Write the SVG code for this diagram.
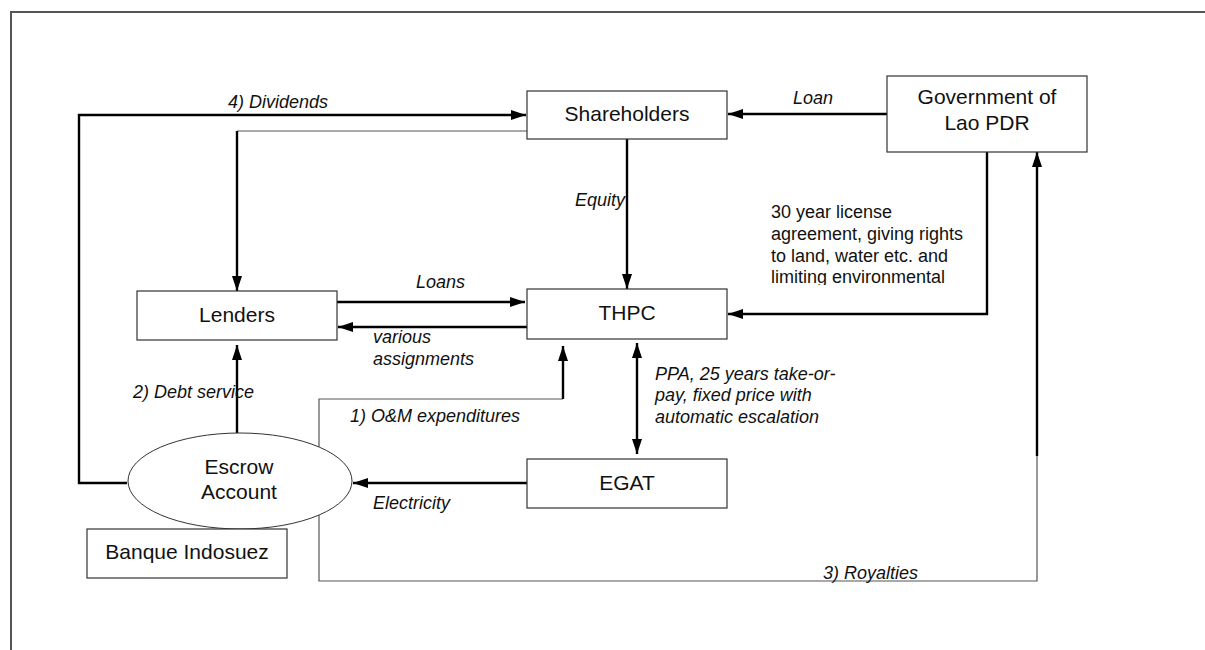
<svg xmlns="http://www.w3.org/2000/svg" width="1205" height="650" viewBox="0 0 1205 650">
<style>
.box{fill:#fff;stroke:#333;stroke-width:1.2}
.nt{font-family:"Liberation Sans",Arial,sans-serif;font-size:21px;fill:#111;text-anchor:middle}
.lb{font-family:"Liberation Sans",Arial,sans-serif;font-size:18px;font-style:italic;fill:#111}
.tx{font-family:"Liberation Sans",Arial,sans-serif;font-size:18px;fill:#111}
.thick{fill:none;stroke:#000;stroke-width:2.4}
.thin{fill:none;stroke:#555;stroke-width:1.2}
.frame{fill:none;stroke:#555;stroke-width:2}
</style>
<defs>
<marker id="ah" markerUnits="userSpaceOnUse" markerWidth="15" markerHeight="10" refX="15" refY="5" orient="auto-start-reverse" viewBox="0 0 15 10">
<path d="M0,0 L15,5 L0,10 z" fill="#000"/>
</marker>
<clipPath id="lic"><rect x="760" y="195" width="240" height="90"/></clipPath>
</defs>
<rect width="1205" height="650" fill="#fff"/>
<g id="frame">
<path class="frame" d="M11,650 V12 H1205"/>
</g>
<g id="connectors">
<path class="thick" d="M127,483 H79 V115 H526" marker-end="url(#ah)"/>
<path class="thin" d="M529,131 H237"/>
<path class="thick" d="M237,131 V291" marker-end="url(#ah)"/>
<path class="thick" d="M887,114 H728" marker-end="url(#ah)"/>
<path class="thick" d="M627,139 V289" marker-end="url(#ah)"/>
<path class="thick" d="M987,152 V314 H728" marker-end="url(#ah)"/>
<path class="thick" d="M337,302 H525" marker-end="url(#ah)"/>
<path class="thick" d="M527,327 H338" marker-end="url(#ah)"/>
<path class="thick" d="M237,433 V345" marker-end="url(#ah)"/>
<path class="thin" d="M319,447 V399 H563"/>
<path class="thick" d="M563,399 V346" marker-end="url(#ah)"/>
<path class="thick" d="M637,343 V454" marker-start="url(#ah)" marker-end="url(#ah)"/>
<path class="thick" d="M527,483 H353" marker-end="url(#ah)"/>
<path class="thin" d="M319,515 V581 H1037 V456"/>
<path class="thick" d="M1037,456 V152" marker-end="url(#ah)"/>
</g>
<g id="labels">
<text class="lb" x="278" y="108" text-anchor="middle">4) Dividends</text>
<text class="lb" x="813" y="104" text-anchor="middle">Loan</text>
<text class="lb" x="625" y="206" text-anchor="end">Equity</text>
<g clip-path="url(#lic)">
<text class="tx" x="771" y="218">30 year license</text>
<text class="tx" x="771" y="240">agreement, giving rights</text>
<text class="tx" x="771" y="262">to land, water etc. and</text>
<text class="tx" x="771" y="283">limiting environmental</text>
</g>
<text class="lb" x="416" y="288">Loans</text>
<text class="lb" x="373" y="343">various</text>
<text class="lb" x="373" y="365">assignments</text>
<text class="lb" x="133" y="398">2) Debt service</text>
<text class="lb" x="350" y="422">1) O&amp;M expenditures</text>
<text class="lb" x="655" y="380">PPA, 25 years take-or-</text>
<text class="lb" x="655" y="401">pay, fixed price with</text>
<text class="lb" x="655" y="423">automatic escalation</text>
<text class="lb" x="373" y="509">Electricity</text>
<text class="lb" x="823" y="579">3) Royalties</text>
</g>
<g id="shareholders">
<rect class="box" x="527" y="91" width="200" height="48"/>
<text class="nt" x="627" y="121">Shareholders</text>
</g>
<g id="government">
<rect class="box" x="887" y="76" width="200" height="76"/>
<text class="nt" x="987" y="104">Government of</text>
<text class="nt" x="987" y="130">Lao PDR</text>
</g>
<g id="lenders">
<rect class="box" x="137" y="291" width="200" height="49"/>
<text class="nt" x="237" y="322">Lenders</text>
</g>
<g id="thpc">
<rect class="box" x="527" y="289" width="200" height="50"/>
<text class="nt" x="627" y="320">THPC</text>
</g>
<g id="egat">
<rect class="box" x="527" y="459" width="200" height="49"/>
<text class="nt" x="627" y="490">EGAT</text>
</g>
<g id="escrow">
<ellipse cx="240" cy="481" rx="112" ry="48" fill="#fff" stroke="#333" stroke-width="1"/>
<text class="nt" x="239" y="474">Escrow</text>
<text class="nt" x="239" y="499">Account</text>
</g>
<g id="banque">
<rect class="box" x="87" y="529" width="200" height="49"/>
<text class="nt" x="187" y="559">Banque Indosuez</text>
</g>
</svg>
